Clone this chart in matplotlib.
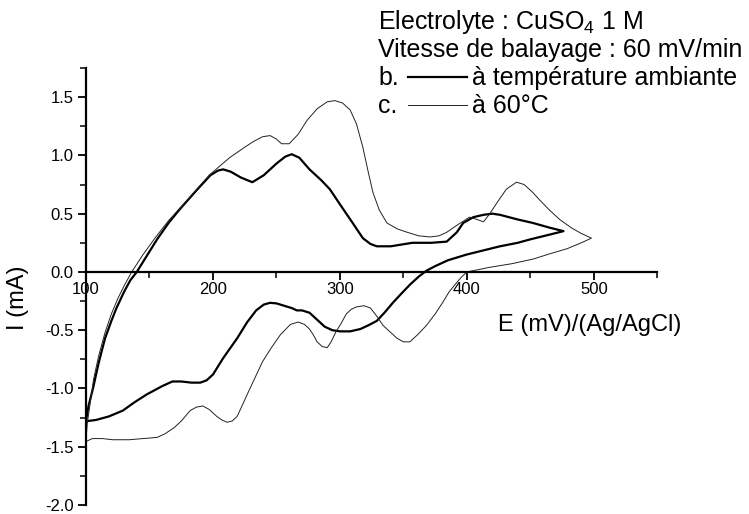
import numpy as np
import matplotlib.pyplot as plt
from matplotlib.lines import Line2D
from matplotlib.ticker import MultipleLocator, FormatStrFormatter

plt.rcParams['font.family'] = ['Liberation Sans', 'DejaVu Sans']
plt.rcParams['mathtext.fontset'] = 'custom'
plt.rcParams['mathtext.rm'] = 'Liberation Sans'
plt.rcParams['axes.unicode_minus'] = False

# b. room temperature cycle, E (mV) vs I (mA), forward then reverse sweep
e_amb = [100, 102, 105.5, 110, 115, 120, 124, 130, 135, 140, 148, 156, 165, 174, 187,
         198, 204, 208, 214, 222, 231, 240, 250, 257, 262, 268, 276, 285, 292, 300,
         310, 318, 324, 329, 340, 357, 372, 384, 392, 397, 405, 413, 420, 426, 440,
         452, 465, 476,
         465, 450, 440, 426, 413, 400, 385, 375, 368, 362, 355, 348, 342, 335, 329,
         322, 316, 308, 300, 294, 288, 282, 276, 270, 266, 262, 256, 250, 245, 240,
         234, 227, 219, 208, 200, 195, 190, 183, 175, 168, 160, 148, 138, 129, 118,
         108, 101]
i_amb = [-1.28, -1.15, -1.0, -0.78, -0.57, -0.42, -0.31, -0.17, -0.07, 0.0, 0.14, 0.28, 0.42, 0.54, 0.70,
         0.83, 0.87, 0.88, 0.86, 0.81, 0.77, 0.83, 0.93, 0.99, 1.01, 0.98, 0.88, 0.79, 0.71, 0.58,
         0.42, 0.29, 0.24, 0.22, 0.22, 0.25, 0.25, 0.26, 0.34, 0.42, 0.47, 0.49, 0.50, 0.49, 0.45,
         0.42, 0.38, 0.35,
         0.32, 0.28, 0.25, 0.22, 0.185, 0.15, 0.10, 0.05, 0.01, -0.04, -0.11, -0.19, -0.26, -0.35, -0.42,
         -0.46, -0.49, -0.51, -0.51, -0.50, -0.47, -0.41, -0.35, -0.33, -0.33, -0.31, -0.29, -0.27, -0.265, -0.28,
         -0.33, -0.43, -0.57, -0.74, -0.88, -0.93, -0.95, -0.95, -0.94, -0.94, -0.98, -1.05, -1.12, -1.19, -1.24,
         -1.27, -1.28]

# c. 60 degC cycle
e_60 = [100, 101, 103, 106, 110, 115, 120, 125, 130, 136, 145, 155, 165, 180, 197,
        213, 225, 232, 239, 245, 250, 254, 260, 267, 274, 282, 290, 296, 302, 308,
        313, 318, 322, 326, 331, 337, 345, 353, 362, 371, 378, 384, 392, 402, 408,
        413, 418, 424, 431, 439, 445, 452, 457, 465, 473, 482, 490, 498,
        490, 479, 465, 452, 435, 418, 400, 396, 392, 386, 381, 375, 368, 361, 355,
        350, 345, 340, 334, 329, 324, 319, 313, 309, 305, 301, 297, 293, 290, 286,
        282, 279, 276, 272, 267, 261, 253, 246, 239, 233, 227, 222, 219, 215, 211,
        207, 203, 197, 192, 187, 182, 175, 169, 162, 156, 145, 134, 121, 113, 105,
        101]
i_60 = [-1.45, -1.3, -1.15, -0.92, -0.72, -0.52, -0.36, -0.23, -0.12, 0.0, 0.15, 0.30, 0.44, 0.62, 0.83,
        0.98, 1.07, 1.12, 1.16, 1.17, 1.14, 1.10, 1.10, 1.18, 1.30, 1.40, 1.46, 1.47, 1.45, 1.39,
        1.27, 1.07, 0.87, 0.68, 0.53, 0.42, 0.37, 0.34, 0.31, 0.30, 0.31, 0.34, 0.40, 0.47, 0.45,
        0.43, 0.50, 0.60, 0.71, 0.77, 0.75, 0.68, 0.62, 0.53, 0.45, 0.38, 0.33, 0.29,
        0.25, 0.20, 0.155, 0.11, 0.07, 0.04, 0.0, -0.04, -0.09, -0.17, -0.26, -0.36, -0.46, -0.54, -0.60,
        -0.60, -0.57, -0.52, -0.46, -0.38, -0.31, -0.29, -0.30, -0.32, -0.36, -0.44, -0.51, -0.60, -0.65, -0.64,
        -0.60, -0.54, -0.49, -0.45, -0.43, -0.45, -0.54, -0.65, -0.77, -0.91, -1.05, -1.17, -1.24, -1.28, -1.29,
        -1.27, -1.24, -1.18, -1.15, -1.16, -1.19, -1.28, -1.34, -1.39, -1.42, -1.43, -1.44, -1.44, -1.43, -1.43,
        -1.45]

fig = plt.figure(figsize=(7.49, 5.14), dpi=100)
ax = fig.add_axes([0.1148, 9 / 514, 0.763, 437 / 514])

ax.plot(e_amb, i_amb, color='black', lw=1.6)
ax.plot(e_60, i_60, color='#222222', lw=0.7)

ax.set_xlim(100, 550)
ax.set_ylim(-2.0, 1.75)
ax.spines['top'].set_visible(False)
ax.spines['right'].set_visible(False)
ax.spines['bottom'].set_position(('data', 0))
ax.spines['left'].set_linewidth(1.6)
ax.spines['bottom'].set_linewidth(1.6)

ax.xaxis.set_major_locator(MultipleLocator(100))
ax.xaxis.set_minor_locator(MultipleLocator(50))
ax.yaxis.set_major_locator(MultipleLocator(0.5))
ax.yaxis.set_minor_locator(MultipleLocator(0.25))
ax.yaxis.set_major_formatter(FormatStrFormatter('%.1f'))
ax.tick_params(which='major', direction='out', length=6, width=1.3, labelsize=12, pad=3)
ax.tick_params(axis='x', which='major', pad=1)
ax.tick_params(which='minor', direction='out', length=4, width=1.1)

fig.text(498 / 749, 1 - 325 / 514, 'E (mV)/(Ag/AgCl)', size=17, ha='left', va='center')
fig.text(18 / 749, 1 - 298 / 514, 'I (mA)', size=17, rotation=90, ha='center', va='center')

x0 = 378 / 749
fig.text(x0, 1 - 22 / 514, 'Electrolyte : CuSO$_4$ 1 M', size=18, va='center')
fig.text(x0, 1 - 50 / 514, 'Vitesse de balayage : 60 mV/min', size=18, va='center')
fig.text(x0, 1 - 78 / 514, 'b.', size=18, va='center')
fig.text(x0, 1 - 106 / 514, 'c.', size=18, va='center')
fig.add_artist(Line2D([408 / 749, 467 / 749], [1 - 77 / 514] * 2, color='black', lw=1.6))
fig.add_artist(Line2D([408 / 749, 467 / 749], [1 - 105 / 514] * 2, color='#222222', lw=0.7))
fig.text(472 / 749, 1 - 78 / 514, 'à température ambiante', size=18, va='center')
fig.text(472 / 749, 1 - 106 / 514, 'à 60°C', size=18, va='center')

fig.savefig('out.png', dpi=100)
